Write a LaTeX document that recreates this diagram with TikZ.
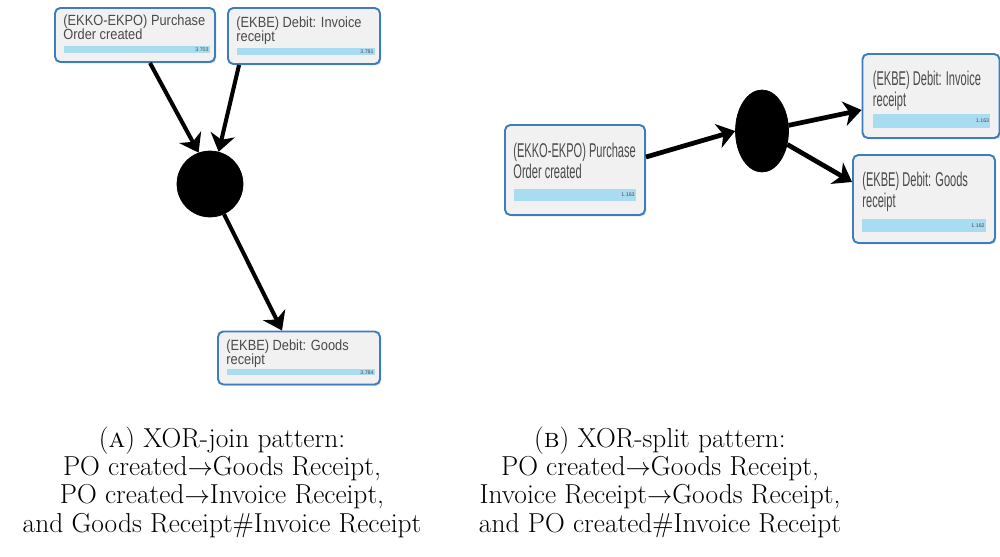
\documentclass[tikz,border=0pt]{standalone}
\usepackage{fontspec}
\usepackage{graphicx}
\usepackage{tikz}
\usetikzlibrary{shapes.geometric, positioning, arrows.meta, shadows}
\newfontfamily\boxfont{Liberation Sans}
\definecolor{boxline}{HTML}{3E7CC0}
\definecolor{boxfill}{HTML}{F1F1F1}
\definecolor{barfill}{HTML}{A9DCF1}
\definecolor{boxtxt}{HTML}{4A4A4A}
% two-line label, stretched upwards by #1
\newcommand{\boxlabel}[3]{\scalebox{1}[#1]{\begin{tabular}{@{}l@{}}#2\\#3\end{tabular}}}

\begin{document}
\begin{tikzpicture}[x=0.02cm, y=-0.02cm,
	actbox/.style={draw=boxline, line width=1.1pt, fill=boxfill, rounded corners=3pt,
		drop shadow={shadow xshift=0.8pt, shadow yshift=-0.8pt, opacity=0.3}},
	smalltxt/.style={inner sep=0pt, text=boxtxt, font=\boxfont\fontsize{7.3}{5.6}\selectfont},
	bigtxt/.style={inner sep=0pt, text=boxtxt, font=\boxfont\fontsize{6.3}{6.8}\selectfont},
	actval/.style={inner sep=0pt, text=boxtxt, font=\boxfont\fontsize{3}{3}\selectfont},
	gate/.style={fill=black, draw=black, inner sep=0pt},
	flow/.style={line width=2.3pt, -{Stealth[length=10pt, width=14pt, inset=3pt]}},
	captext/.style={align=center, font=\fontsize{15.6}{16.1}\selectfont}]
	\useasboundingbox (0,0) rectangle (1000,557);

	% (A) XOR-join
	\node[actbox, minimum width=3.2cm, minimum height=1.08cm] (poA) at (135,35) {};
	\node[smalltxt, anchor=north west] (poA-txt) at ([shift={(0.18cm,-0.15cm)}]poA.north west) {\boxlabel{1.15}{(EKKO-EKPO) Purchase}{Order created}};
	\fill[barfill] ([shift={(0.2cm,0.2cm)}]poA.south west) rectangle ([shift={(-0.12cm,0.34cm)}]poA.south east);
	\node[actval, anchor=east] (poA-val) at ([shift={(-0.14cm,0.27cm)}]poA.south east) {3.703};

	\node[actbox, minimum width=3.04cm, minimum height=1.12cm] (invA) at (304,36) {};
	\node[smalltxt, anchor=north west] (invA-txt) at ([shift={(0.18cm,-0.18cm)}]invA.north west) {\boxlabel{1.15}{(EKBE) Debit: Invoice}{receipt}};
	\fill[barfill] ([shift={(0.2cm,0.2cm)}]invA.south west) rectangle ([shift={(-0.12cm,0.34cm)}]invA.south east);
	\node[actval, anchor=east] (invA-val) at ([shift={(-0.14cm,0.27cm)}]invA.south east) {3.781};

	\node[actbox, minimum width=3.24cm, minimum height=1.06cm] (grA) at (299,358) {};
	\node[smalltxt, anchor=north west] (grA-txt) at ([shift={(0.18cm,-0.18cm)}]grA.north west) {\boxlabel{1.15}{(EKBE) Debit: Goods}{receipt}};
	\fill[barfill] ([shift={(0.2cm,0.2cm)}]grA.south west) rectangle ([shift={(-0.12cm,0.32cm)}]grA.south east);
	\node[actval, anchor=east] (grA-val) at ([shift={(-0.14cm,0.26cm)}]grA.south east) {3.784};

	\node[gate, circle, minimum size=1.32cm] (joinA) at (210,184) {};

	\draw[flow] ([xshift=0.3cm]poA.south) -- (joinA.110);
	\draw[flow] ([xshift=0.24cm]invA.south west) -- (joinA.75);
	\draw[flow] (joinA.-65) -- ([xshift=-0.34cm]grA.north);

	% (B) XOR-split
	\node[actbox, minimum width=2.8cm, minimum height=1.8cm] (poB) at (575,170) {};
	\node[bigtxt, anchor=north west] (poB-txt) at ([shift={(0.18cm,-0.36cm)}]poB.north west) {\boxlabel{1.8}{(EKKO-EKPO) Purchase}{Order created}};
	\fill[barfill] ([shift={(0.2cm,0.3cm)}]poB.south west) rectangle ([shift={(-0.2cm,0.54cm)}]poB.south east);
	\node[actval, anchor=east] (poB-val) at ([shift={(-0.22cm,0.42cm)}]poB.south east) {1.163};

	\node[actbox, minimum width=2.74cm, minimum height=1.68cm] (invB) at (931,96) {};
	\node[bigtxt, anchor=north west] (invB-txt) at ([shift={(0.22cm,-0.34cm)}]invB.north west) {\boxlabel{1.8}{(EKBE) Debit: Invoice}{receipt}};
	\fill[barfill] ([shift={(0.22cm,0.22cm)}]invB.south west) rectangle ([shift={(-0.2cm,0.5cm)}]invB.south east);
	\node[actval, anchor=east] (invB-val) at ([shift={(-0.22cm,0.36cm)}]invB.south east) {1.163};

	\node[actbox, minimum width=2.84cm, minimum height=1.76cm] (grB) at (924,199) {};
	\node[bigtxt, anchor=north west] (grB-txt) at ([shift={(0.2cm,-0.34cm)}]grB.north west) {\boxlabel{1.8}{(EKBE) Debit: Goods}{receipt}};
	\fill[barfill] ([shift={(0.2cm,0.24cm)}]grB.south west) rectangle ([shift={(-0.2cm,0.5cm)}]grB.south east);
	\node[actval, anchor=east] (grB-val) at ([shift={(-0.22cm,0.37cm)}]grB.south east) {1.162};

	\node[gate, ellipse, minimum width=1.06cm, minimum height=1.64cm] (splitB) at (762,131) {};

	\draw[flow, line width=2.7pt] ([yshift=0.26cm]poB.east) -- (splitB.west);
	\draw[flow, line width=2.7pt] (splitB.12) -- ([yshift=-0.28cm]invB.west);
	\draw[flow, line width=2.7pt] (splitB.-28) -- ([yshift=0.34cm]grB.west);

	% captions
	\node[captext] (capA) at (222,482) {(\textsc{a}) XOR-join pattern:\\PO created$\rightarrow$Goods Receipt,\\PO created$\rightarrow$Invoice Receipt,\\and Goods Receipt\#Invoice Receipt};
	\node[captext] (capB) at (660,482) {(\textsc{b}) XOR-split pattern:\\PO created$\rightarrow$Goods Receipt,\\Invoice Receipt$\rightarrow$Goods Receipt,\\and PO created\#Invoice Receipt};
\end{tikzpicture}
\end{document}
